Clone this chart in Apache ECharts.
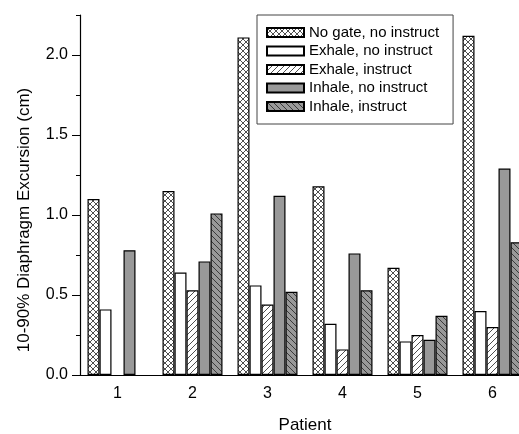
<!DOCTYPE html>
<html>
<head>
<meta charset="utf-8">
<script src="https://cdn.jsdelivr.net/npm/echarts@6/dist/echarts.min.js"></script>
<style>
  html, body { margin: 0; padding: 0; background: #fff; }
  #chart { width: 519px; height: 434px; }
</style>
</head>
<body>
<div id="chart"></div>
<script>
// data
const patients = ['1', '2', '3', '4', '5', '6']
const seriesNames = ['No gate, no instruct', 'Exhale, no instruct', 'Exhale, instruct', 'Inhale, no instruct', 'Inhale, instruct']
const noGateNoInstruct = [1.10, 1.15, 2.11, 1.18, 0.67, 2.12]
const exhaleNoInstruct = [0.41, 0.64, 0.56, 0.32, 0.21, 0.40]
const exhaleInstruct = [null, 0.53, 0.44, 0.16, 0.25, 0.30]
const inhaleNoInstruct = [0.78, 0.71, 1.12, 0.76, 0.22, 1.29]
const inhaleInstruct = [null, 1.01, 0.52, 0.53, 0.37, 0.83]
const majorTicks = [0, 0.5, 1.0, 1.5, 2.0]
const minorTicks = [0.25, 0.75, 1.25, 1.75, 2.25]
const yTitle = '10-90% Diaphragm Excursion (cm)'
const xTitle = 'Patient'

const font = 'Liberation Sans, Arial, sans-serif'

// small canvas tiles used as bar fills
function pattern(bg, kind) {
  const s = 6
  const c = document.createElement('canvas')
  c.width = s
  c.height = s
  const ctx = c.getContext('2d')
  ctx.fillStyle = bg
  ctx.fillRect(0, 0, s, s)
  ctx.strokeStyle = '#222'
  ctx.lineWidth = 0.8
  ctx.beginPath()
  if (kind === 'cross' || kind === 'back') {
    ctx.moveTo(0, 0); ctx.lineTo(s, s)
    ctx.moveTo(-1, s - 1); ctx.lineTo(1, s + 1)
    ctx.moveTo(s - 1, -1); ctx.lineTo(s + 1, 1)
  }
  if (kind === 'cross' || kind === 'fwd') {
    ctx.moveTo(0, s); ctx.lineTo(s, 0)
    ctx.moveTo(-1, 1); ctx.lineTo(1, -1)
    ctx.moveTo(s - 1, s + 1); ctx.lineTo(s + 1, s - 1)
  }
  ctx.stroke()
  return { image: c, repeat: 'repeat' }
}

const fills = [
  pattern('#fff', 'cross'),
  '#fff',
  pattern('#fff', 'fwd'),
  '#999',
  pattern('#999', 'back'),
]
const values = [noGateNoInstruct, exhaleNoInstruct, exhaleInstruct, inhaleNoInstruct, inhaleInstruct]

const chart = echarts.init(document.getElementById('chart'))

const axisCommon = {
  type: 'value',
  min: 0,
  max: 2.25,
  splitLine: { show: false },
}

chart.setOption({
  animation: false,
  // the plot runs past the right edge of the picture
  grid: { left: 80, width: 450, top: 15, bottom: 59, outerBoundsMode: 'none', containLabel: false },
  legend: {
    orient: 'vertical',
    left: 257,
    top: 15,
    icon: 'rect',
    itemWidth: 37,
    itemHeight: 9,
    itemGap: 3.5,
    padding: [10, 14, 10, 9],
    borderColor: '#444',
    borderWidth: 1,
    textStyle: { fontFamily: font, fontSize: 15, color: '#000' },
    data: seriesNames,
  },
  xAxis: {
    type: 'category',
    data: patients,
    name: xTitle,
    nameLocation: 'middle',
    nameGap: 42,
    nameTextStyle: { fontFamily: font, fontSize: 17, color: '#000' },
    axisLine: { lineStyle: { color: '#000', width: 1.2 } },
    axisTick: { alignWithLabel: true, length: 8, lineStyle: { color: '#000' } },
    axisLabel: { margin: 11, fontFamily: font, fontSize: 16, color: '#000' },
  },
  yAxis: [
    Object.assign({}, axisCommon, {
      axisLine: { show: true, lineStyle: { color: '#000', width: 1.2 } },
      axisTick: { show: true, length: 8, customValues: majorTicks, lineStyle: { color: '#000' } },
      axisLabel: {
        customValues: majorTicks,
        margin: 12,
        fontFamily: font,
        fontSize: 16,
        color: '#000',
        formatter: (v) => v.toFixed(1),
      },
    }),
    Object.assign({}, axisCommon, {
      position: 'left',
      axisLine: { show: false },
      axisTick: { show: true, length: 4, customValues: minorTicks, lineStyle: { color: '#000' } },
      axisLabel: { show: false },
    }),
  ],
  graphic: [
    {
      type: 'text',
      x: 24,
      y: 220,
      rotation: Math.PI / 2,
      style: {
        text: yTitle,
        font: '17px ' + font,
        fill: '#000',
        align: 'center',
        verticalAlign: 'middle',
      },
    },
  ],
  series: seriesNames.map((name, i) => ({
    name: name,
    type: 'bar',
    yAxisIndex: 0,
    barWidth: 12,
    barGap: '0%',
    data: values[i],
    itemStyle: { color: fills[i], borderColor: '#000', borderWidth: 1.2 },
  })),
})
</script>
</body>
</html>
